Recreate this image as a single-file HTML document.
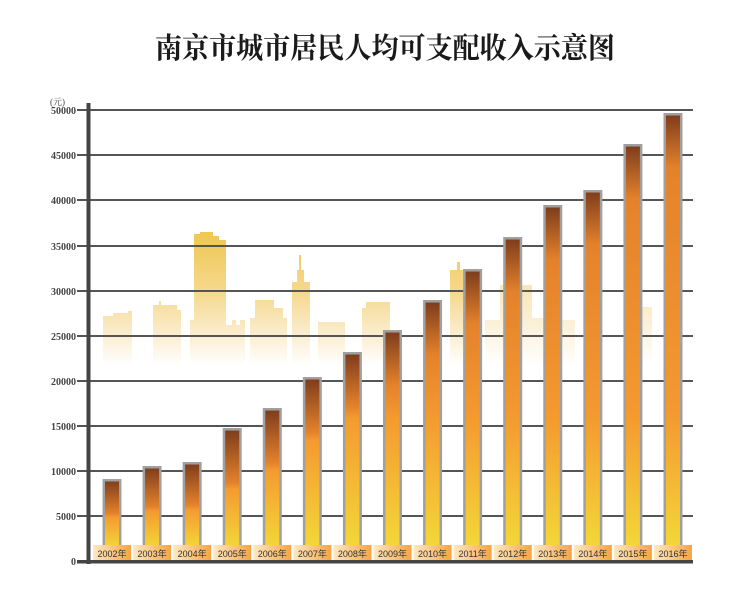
<!DOCTYPE html>
<html><head><meta charset="utf-8"><style>
html,body{margin:0;padding:0;background:#fff;}
svg{display:block;}
</style></head><body>
<svg width="743" height="599" viewBox="0 0 743 599" xmlns="http://www.w3.org/2000/svg">
<defs>
<linearGradient id="sky" gradientUnits="userSpaceOnUse" x1="0" y1="230" x2="0" y2="365">
<stop offset="0" stop-color="#efc650"/>
<stop offset="0.45" stop-color="#f5d88c"/>
<stop offset="0.7" stop-color="#f9e8c0"/>
<stop offset="1" stop-color="#ffffff"/>
</linearGradient>
<linearGradient id="lab" x1="0" y1="0" x2="1" y2="0">
<stop offset="0" stop-color="#fde9c2"/>
<stop offset="1" stop-color="#f6a443"/>
</linearGradient>
</defs>
<text x="155" y="58" textLength="460" lengthAdjust="spacingAndGlyphs" font-family="'Liberation Serif','Noto Serif CJK SC',serif" font-weight="bold" font-size="29" fill="#1a1a1a">南京市城市居民人均可支配收入示意图</text>

<g fill="url(#sky)">
<path d="M103 365V316H113V313H128V311H132V365Z"/>
<path d="M153 365V305H159V301H161V305H177V310H181V365Z"/>
<path d="M190 365V320H194V234H200V232H213V236H219V240H226V365Z"/>
<path d="M226 365V325H232V320H236V325H240V320H245V365Z"/>
<path d="M250 365V318H255V300H274V308H283V318H287V365Z"/>
<path d="M292 365V282H297V270H299V255H301V270H304V282H310V365Z"/>
<path d="M318 365V322H345V365Z"/>
<path d="M362 365V308H366V302H390V365Z"/>
<path d="M450 365V270H457V262H460V270H470V365Z"/>
</g>
<g fill="url(#sky)" opacity="0.6">
<path d="M485 365V320H500V285H532V318H545V365Z"/>
<path d="M560 365V320H575V365Z"/>
<path d="M640 365V307H652V365Z"/>
</g>

<g stroke="#555" stroke-width="2">
<line x1="77" y1="110" x2="693" y2="110"/>
<line x1="77" y1="155" x2="693" y2="155"/>
<line x1="77" y1="200" x2="693" y2="200"/>
<line x1="77" y1="246" x2="693" y2="246"/>
<line x1="77" y1="291" x2="693" y2="291"/>
<line x1="77" y1="336" x2="693" y2="336"/>
<line x1="77" y1="381" x2="693" y2="381"/>
<line x1="77" y1="426" x2="693" y2="426"/>
<line x1="77" y1="471" x2="693" y2="471"/>
<line x1="77" y1="516" x2="693" y2="516"/>
</g>

<g font-family="'Liberation Serif',serif" font-weight="bold" font-size="10" fill="#444" text-anchor="end">
<text x="76" y="114">50000</text>
<text x="76" y="159">45000</text>
<text x="76" y="204">40000</text>
<text x="76" y="250">35000</text>
<text x="76" y="295">30000</text>
<text x="76" y="340">25000</text>
<text x="76" y="385">20000</text>
<text x="76" y="430">15000</text>
<text x="76" y="475">10000</text>
<text x="76" y="520">5000</text>
<text x="76" y="565">0</text>
</g>
<text x="50" y="105" font-family="'Liberation Serif','Noto Serif CJK SC',serif" font-size="9" fill="#444">(元)</text>

<g id="bars"></g>
<g id="labels"></g>

<rect x="86.5" y="103" width="4" height="461" fill="#444"/>
<rect x="77" y="560" width="616" height="3.5" fill="#444"/>
</svg>
<script>
var tops=[479,466,462,428,408,377,352,330,300,269,237,205,190,144,113];
var ns="http://www.w3.org/2000/svg";
var svg=document.querySelector('svg'),defs=svg.querySelector('defs');
var bars=document.getElementById('bars'),labs=document.getElementById('labels');
tops.forEach(function(t,i){
 var cx=112+i*40.07;
 var g=document.createElementNS(ns,'linearGradient');
 g.setAttribute('id','b'+i);g.setAttribute('gradientUnits','userSpaceOnUse');
 g.setAttribute('x1',0);g.setAttribute('x2',0);g.setAttribute('y1',t);g.setAttribute('y2',548);
 var h=548-t;
 var o1=Math.min(0.5,55/h), o2=Math.max(o1+0.05,1-130/h);
 g.innerHTML='<stop offset="0" stop-color="#7a3a1c"/><stop offset="'+o1+'" stop-color="#e4822c"/><stop offset="'+o2+'" stop-color="#f49a30"/><stop offset="1" stop-color="#f3d838"/>';
 defs.appendChild(g);
 var r=document.createElementNS(ns,'rect');
 r.setAttribute('x',cx-9.5);r.setAttribute('y',t);r.setAttribute('width',19);r.setAttribute('height',548-t);
 r.setAttribute('fill','#a0a0a0');bars.appendChild(r);
 var r2=document.createElementNS(ns,'rect');
 r2.setAttribute('x',cx-7);r2.setAttribute('y',t+2.5);r2.setAttribute('width',14);r2.setAttribute('height',548-t-2.5);
 r2.setAttribute('fill','url(#b'+i+')');bars.appendChild(r2);
 var lb=document.createElementNS(ns,'rect');
 lb.setAttribute('x',cx-19);lb.setAttribute('y',545);lb.setAttribute('width',38);lb.setAttribute('height',16);
 lb.setAttribute('fill','url(#lab)');labs.appendChild(lb);
 var tx=document.createElementNS(ns,'text');
 tx.setAttribute('x',cx);tx.setAttribute('y',557);tx.setAttribute('text-anchor','middle');
 tx.setAttribute('font-family',"'Liberation Sans','Noto Sans CJK SC',sans-serif");
 tx.setAttribute('font-size','9');tx.setAttribute('fill','#333');
 tx.textContent=(2002+i)+'年';labs.appendChild(tx);
});
</script>
</body></html>
